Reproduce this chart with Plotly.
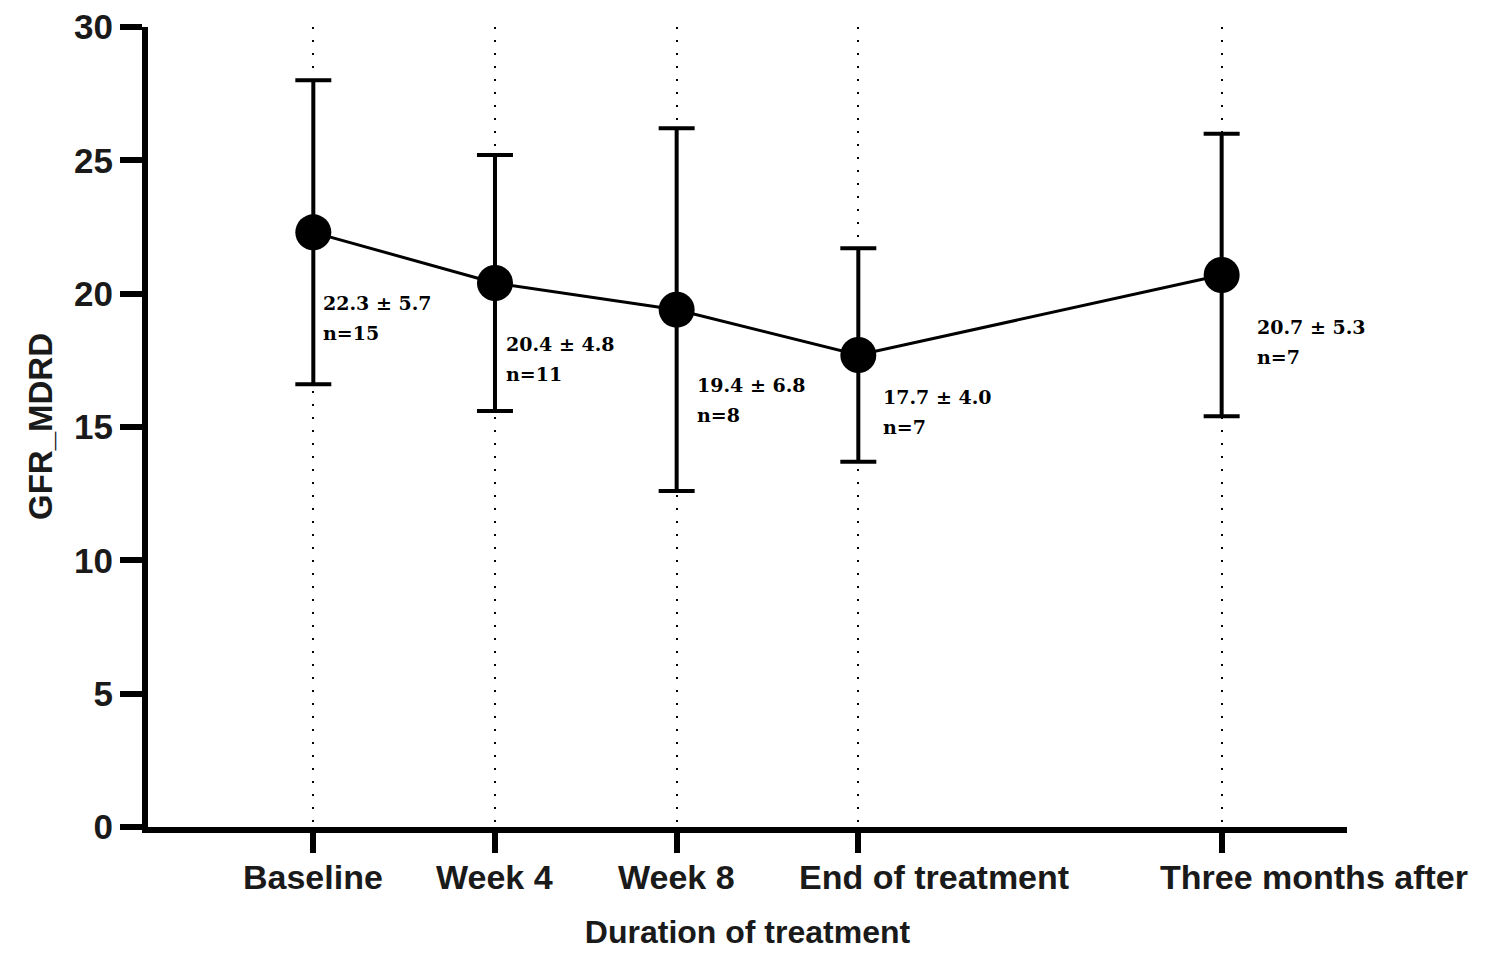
import plotly.graph_objects as go

categories = ["Baseline", "Week 4", "Week 8", "End of treatment", "Three months after"]
x_pos = [1, 2, 3, 4, 6]
means = [22.3, 20.4, 19.4, 17.7, 20.7]
sds = [5.7, 4.8, 6.8, 4.0, 5.3]
ns = [15, 11, 8, 7, 7]
y_ticks = [0, 5, 10, 15, 20, 25, 30]

# label pixel offsets (style only)
lab_dx = [8, 9, 18, 23, 33]
lab_dy = [-58, -48, -62, -29, -39]
# horizontal shift of the category labels (long ones sit right of their tick, as in the original)
cat_dx = [0, 0, 0, 76, 92]

fig = go.Figure()
fig.add_trace(go.Scatter(
    x=x_pos, y=means, mode="lines+markers",
    line=dict(color="black", width=3),
    marker=dict(color="black", size=36),
    error_y=dict(type="data", array=sds, visible=True, color="black", thickness=4, width=18),
    showlegend=False, hoverinfo="skip",
))

lab_font = dict(family="DejaVu Serif", size=19, color="black", weight="bold")
for i in range(len(x_pos)):
    fig.add_annotation(x=x_pos[i], y=means[i], xref="x", yref="y",
                       text=f"{means[i]:.1f} ± {sds[i]:.1f}", showarrow=False,
                       xanchor="left", yanchor="top", xshift=lab_dx[i], yshift=lab_dy[i],
                       font=lab_font)
    fig.add_annotation(x=x_pos[i], y=means[i], xref="x", yref="y",
                       text=f"n={ns[i]}", showarrow=False,
                       xanchor="left", yanchor="top", xshift=lab_dx[i], yshift=lab_dy[i] - 30,
                       font=lab_font)

cat_font = dict(family="Liberation Sans", size=34, color="#1a1a1a", weight="bold")
for i in range(len(x_pos)):
    fig.add_annotation(x=x_pos[i], y=0, xref="x", yref="paper",
                       text=categories[i], showarrow=False,
                       xanchor="center", yanchor="top", xshift=cat_dx[i], yshift=-29,
                       font=cat_font)

# y-axis title
fig.add_annotation(x=0, y=0.5, xref="paper", yref="paper", text="GFR_MDRD",
                   showarrow=False, textangle=-90, xanchor="center", yanchor="middle",
                   xshift=-108,
                   font=dict(family="Liberation Sans", size=33, color="#1a1a1a", weight="bold"))

fig.update_layout(
    width=1500, height=961,
    margin=dict(l=140, r=161, t=19, b=142),
    plot_bgcolor="white", paper_bgcolor="white",
    xaxis=dict(
        range=[0.09, 6.69], tickmode="array", tickvals=x_pos, showticklabels=False,
        automargin=False,
        showline=True, linecolor="black", linewidth=6,
        ticks="outside", ticklen=20, tickwidth=6, tickcolor="black",
        showgrid=True, gridcolor="black", gridwidth=2, griddash="2px,11px",
        zeroline=False,
        title=dict(text="Duration of treatment", font=dict(family="Liberation Sans", size=32, color="#1a1a1a", weight="bold"), standoff=71),
    ),
    yaxis=dict(
        range=[0, 30], tickmode="array", tickvals=y_ticks, automargin=False,
        ticklabeloverflow="allow",
        showline=True, linecolor="black", linewidth=6,
        ticks="outside", ticklen=22, tickwidth=6, tickcolor="black",
        showgrid=False, zeroline=False, tickfont=dict(family="Liberation Sans", size=35, color="#1a1a1a", weight="bold"),
    ),
)

fig.write_html("out.html")
